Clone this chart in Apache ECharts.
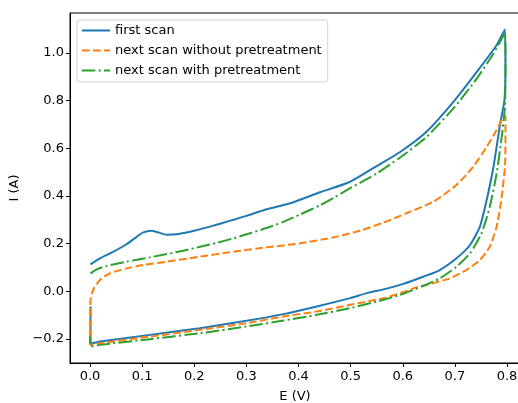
<!DOCTYPE html>
<html>
<head>
<meta charset="utf-8">
<script src="https://cdn.jsdelivr.net/npm/echarts@6/dist/echarts.min.js"></script>
<style>
  html, body { margin: 0; padding: 0; background: #fff; }
  #chart { width: 518px; height: 403px; }
</style>
</head>
<body>
<div id="chart"></div>
<script>
  // first scan (E in V, I in A), forward branch then reverse branch
  var firstE = [0.001, 0.019, 0.045, 0.070, 0.090, 0.102, 0.118, 0.131, 0.147, 0.166, 0.198, 0.230, 0.269, 0.300, 0.339, 0.384, 0.441, 0.497, 0.550, 0.595, 0.646, 0.700, 0.742, 0.780, 0.796,
    0.797, 0.795, 0.787, 0.774, 0.761, 0.748, 0.729, 0.703, 0.671, 0.639, 0.601, 0.569, 0.531, 0.499, 0.435, 0.371, 0.300, 0.211, 0.115, 0.019, 0.003, 0.001, 0.001]
  var firstI = [0.113, 0.138, 0.166, 0.197, 0.229, 0.247, 0.254, 0.247, 0.237, 0.239, 0.253, 0.271, 0.296, 0.316, 0.344, 0.369, 0.415, 0.457, 0.525, 0.584, 0.670, 0.802, 0.920, 1.032, 1.098,
    0.940, 0.800, 0.704, 0.522, 0.383, 0.271, 0.194, 0.138, 0.089, 0.061, 0.031, 0.011, -0.008, -0.029, -0.064, -0.096, -0.124, -0.155, -0.183, -0.211, -0.218, -0.218, -0.064]

  // next scan without pretreatment
  var noPreE = [0.000, 0.001, 0.006, 0.019, 0.038, 0.070, 0.102, 0.147, 0.211, 0.275, 0.339, 0.403, 0.467, 0.518, 0.563, 0.607, 0.659, 0.703, 0.735, 0.761, 0.780, 0.793, 0.797,
    0.797, 0.796, 0.789, 0.780, 0.767, 0.748, 0.722, 0.690, 0.659, 0.627, 0.595, 0.563, 0.499, 0.435, 0.371, 0.300, 0.211, 0.115, 0.019, 0.001, 0.000]
  var noPreI = [-0.150, -0.036, 0.006, 0.047, 0.075, 0.096, 0.110, 0.124, 0.145, 0.166, 0.184, 0.201, 0.226, 0.254, 0.288, 0.327, 0.376, 0.446, 0.522, 0.606, 0.676, 0.732, 0.735,
    0.634, 0.522, 0.383, 0.271, 0.187, 0.131, 0.089, 0.054, 0.034, 0.017, -0.008, -0.029, -0.057, -0.085, -0.106, -0.134, -0.162, -0.190, -0.218, -0.225, -0.150]

  // next scan with pretreatment
  var withPreE = [0.001, 0.013, 0.032, 0.070, 0.115, 0.179, 0.243, 0.275, 0.307, 0.340, 0.371, 0.403, 0.441, 0.470, 0.499, 0.550, 0.595, 0.646, 0.700, 0.742, 0.774, 0.790, 0.796,
    0.797, 0.796, 0.789, 0.780, 0.767, 0.751, 0.729, 0.703, 0.671, 0.639, 0.595, 0.563, 0.499, 0.435, 0.371, 0.300, 0.211, 0.115, 0.019, 0.001, 0.000]
  var withPreI = [0.075, 0.092, 0.106, 0.124, 0.142, 0.170, 0.203, 0.222, 0.243, 0.266, 0.291, 0.322, 0.360, 0.395, 0.432, 0.494, 0.561, 0.648, 0.774, 0.892, 0.997, 1.060, 1.081,
    0.941, 0.774, 0.634, 0.494, 0.355, 0.243, 0.159, 0.103, 0.054, 0.022, -0.015, -0.036, -0.071, -0.099, -0.123, -0.148, -0.176, -0.201, -0.225, -0.232, -0.190]

  var seriesNames = ['first scan', 'next scan without pretreatment', 'next scan with pretreatment']
  var xTicks = [0.0, 0.1, 0.2, 0.3, 0.4, 0.5, 0.6, 0.7, 0.8]
  var yTicks = [-0.2, 0.0, 0.2, 0.4, 0.6, 0.8, 1.0]

  function pairs (xs, ys) {
    return xs.map(function (x, i) { return [x, ys[i]] })
  }
  function fmt (v) {
    return v.toFixed(1).replace('-', '\u2212')
  }

  var font = 'DejaVu Sans'
  var chart = echarts.init(document.getElementById('chart'), null, {renderer: 'canvas'})
  chart.setOption({
    animation: false,
    textStyle: {fontFamily: font},
    grid: {
      left: 70, top: 13, right: -2, bottom: 40,
      containLabel: false, outerBoundsMode: 'none',
      show: true, borderColor: '#000', borderWidth: 1
    },
    legend: {
      left: 77, top: 20,
      orient: 'vertical',
      data: seriesNames,
      itemWidth: 28, itemHeight: 12, itemGap: 7,
      padding: [4, 6, 5, 4],
      backgroundColor: 'rgba(255,255,255,0.8)',
      borderColor: '#d0d0d0', borderWidth: 1, borderRadius: 3,
      itemStyle: {opacity: 0},
      textStyle: {fontFamily: font, fontSize: 13, color: '#000'}
    },
    xAxis: {
      type: 'value',
      min: -0.0384, max: 0.8249,
      name: 'E (V)', nameLocation: 'middle', nameGap: 27,
      nameTextStyle: {fontFamily: font, fontSize: 13, color: '#000'},
      splitLine: {show: false},
      axisLine: {show: true, onZero: false, lineStyle: {color: '#000', width: 1}},
      axisTick: {show: true, customValues: xTicks, length: 4, lineStyle: {color: '#000'}},
      axisLabel: {customValues: xTicks, formatter: fmt, fontFamily: font, fontSize: 13, color: '#000', margin: 7}
    },
    yAxis: {
      type: 'value',
      min: -0.301, max: 1.167,
      name: 'I (A)', nameLocation: 'middle', nameGap: 47, nameRotate: 90,
      nameTextStyle: {fontFamily: font, fontSize: 13, color: '#000'},
      splitLine: {show: false},
      axisLine: {show: true, onZero: false, lineStyle: {color: '#000', width: 1}},
      axisTick: {show: true, customValues: yTicks, length: 4, lineStyle: {color: '#000'}},
      axisLabel: {customValues: yTicks, formatter: fmt, fontFamily: font, fontSize: 13, color: '#000', margin: 6}
    },
    series: [
      {
        name: seriesNames[0], type: 'line', data: pairs(firstE, firstI),
        showSymbol: false, symbol: 'none', smooth: 0.2,
        color: '#1f77b4', lineStyle: {color: '#1f77b4', width: 2}
      },
      {
        name: seriesNames[1], type: 'line', data: pairs(noPreE, noPreI),
        showSymbol: false, symbol: 'none', smooth: 0.2,
        color: '#ff7f0e', lineStyle: {color: '#ff7f0e', width: 2, type: [7.7, 3.3]}
      },
      {
        name: seriesNames[2], type: 'line', data: pairs(withPreE, withPreI),
        showSymbol: false, symbol: 'none', smooth: 0.2,
        color: '#2ca02c', lineStyle: {color: '#2ca02c', width: 2, type: [13.3, 3.3, 2.1, 3.3]}
      }
    ]
  })
</script>
</body>
</html>
